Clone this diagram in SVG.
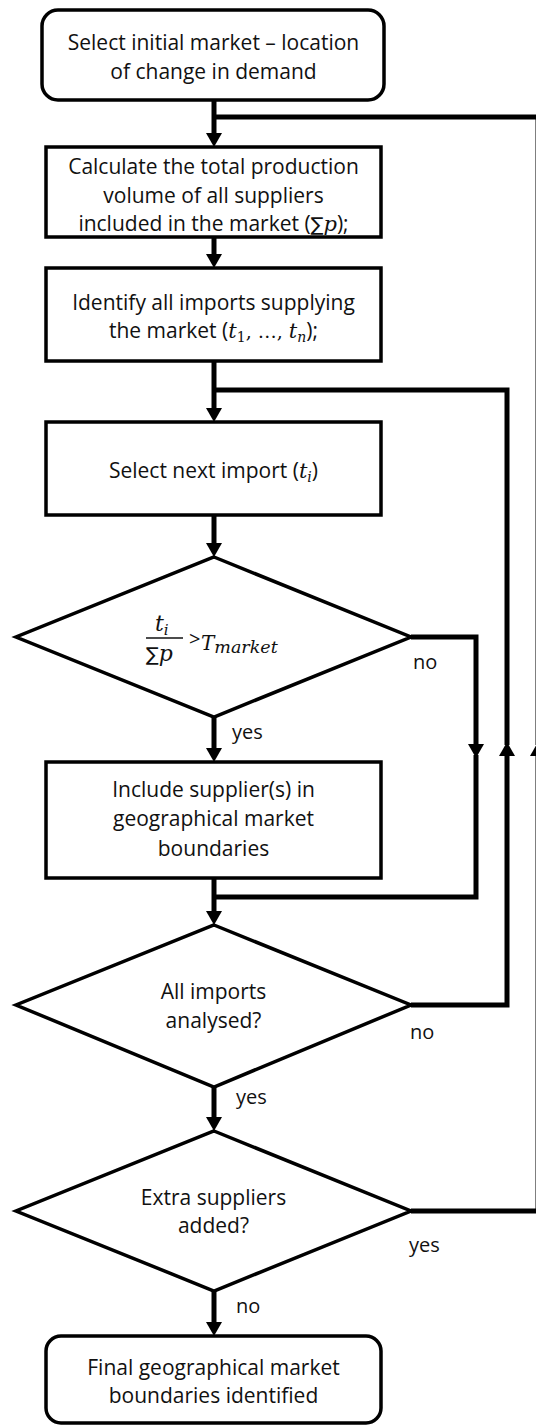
<svg xmlns="http://www.w3.org/2000/svg" width="536" height="1425" viewBox="0 0 536 1425">
<style>
.box{fill:#fff;stroke:#000;stroke-width:3.5}
.conn{fill:none;stroke:#000;stroke-width:5;stroke-linejoin:miter}
.t{font-family:"Open Sans","Liberation Sans",sans-serif;font-size:21px;fill:#111;text-anchor:middle}
.lbl{font-family:"Open Sans","Liberation Sans",sans-serif;font-size:20px;fill:#111}
.mi{font-family:"DejaVu Serif","Liberation Serif",serif;font-style:italic}
.m{font-family:"DejaVu Serif","Liberation Serif",serif;font-style:normal}
.sum{font-family:"DejaVu Sans","Liberation Sans",sans-serif;font-style:normal}
</style>
<defs>
<marker id="ah" markerUnits="userSpaceOnUse" markerWidth="14" markerHeight="16" viewBox="0 0 14 16" refX="0" refY="8" orient="auto">
<path d="M0,0 L14,8 L0,16 Z" fill="#000"/>
</marker>
</defs>
<rect width="536" height="1425" fill="#fff"/>

<g id="connectors">
<path class="conn" d="M214,100 V133" marker-end="url(#ah)"/>
<path class="conn" d="M214,237 V254" marker-end="url(#ah)"/>
<path class="conn" d="M214,361 V408" marker-end="url(#ah)"/>
<path class="conn" d="M214,515 V543" marker-end="url(#ah)"/>
<path class="conn" d="M214,717 V748" marker-end="url(#ah)"/>
<path class="conn" d="M214,878 V911" marker-end="url(#ah)"/>
<path class="conn" d="M214,1087 V1117" marker-end="url(#ah)"/>
<path class="conn" d="M214,1291 V1322" marker-end="url(#ah)"/>
<path class="conn" d="M411,637 H476 V744" marker-end="url(#ah)"/>
<path class="conn" d="M476,755 V897 H212"/>
<path class="conn" d="M411,1005 H507 V756" marker-end="url(#ah)"/>
<path class="conn" d="M507,745 V390 H212"/>
<path class="conn" d="M411,1211 H538 V756" marker-end="url(#ah)"/>
<path class="conn" d="M538,745 V117 H212"/>
</g>

<g id="start">
<rect class="box" x="42" y="10" width="342" height="90" rx="16"/>
<text class="t" x="213.5" y="50">Select initial market – location</text>
<text class="t" x="213.5" y="79">of change in demand</text>
</g>

<g id="calc-total">
<rect class="box" x="46" y="147" width="335" height="90"/>
<text class="t" x="213.5" y="174">Calculate the total production</text>
<text class="t" x="213.5" y="203">volume of all suppliers</text>
<text class="t" x="213.5" y="231">included in the market (<tspan class="sum" font-size="19">∑</tspan><tspan class="mi" font-size="21">p</tspan>);</text>
</g>

<g id="identify-imports">
<rect class="box" x="46" y="268" width="335" height="93"/>
<text class="t" x="213.5" y="310">Identify all imports supplying</text>
<text class="t" x="213.5" y="338">the market (<tspan class="mi" font-size="21">t</tspan><tspan class="m" font-size="14" dy="4">1</tspan><tspan class="m" font-size="19" dy="-4">,  …, </tspan><tspan class="mi" font-size="21">t</tspan><tspan class="mi" font-size="14" dy="4">n</tspan><tspan dy="-4">);</tspan></text>
</g>

<g id="select-next">
<rect class="box" x="46" y="422" width="335" height="93"/>
<text class="t" x="213.5" y="478">Select next import (<tspan class="mi" font-size="21">t</tspan><tspan class="mi" font-size="14" dy="4">i</tspan><tspan dy="-4">)</tspan></text>
</g>

<g id="threshold">
<polygon class="box" points="214,557 411,637 214,717 16,637"/>
<text class="mi" x="155" y="631" font-size="22" fill="#111">t<tspan font-size="15" dy="4">i</tspan></text>
<line x1="146" y1="638" x2="183" y2="638" stroke="#111" stroke-width="1.5"/>
<text x="146" y="661" font-size="22" fill="#111"><tspan class="sum" font-size="19">∑</tspan><tspan class="mi">p</tspan></text>
<text class="lbl" x="189" y="646" font-size="18">&gt;</text>
<text class="mi" x="201" y="650" font-size="20" fill="#111">T<tspan font-size="17.5" dy="3">market</tspan></text>
</g>

<g id="include-supplier">
<rect class="box" x="46" y="762" width="335" height="116"/>
<text class="t" x="213.5" y="797">Include supplier(s) in</text>
<text class="t" x="213.5" y="826">geographical market</text>
<text class="t" x="213.5" y="856">boundaries</text>
</g>

<g id="all-analysed">
<polygon class="box" points="214,925 411,1005 214,1087 16,1005"/>
<text class="t" x="213.5" y="999">All imports</text>
<text class="t" x="213.5" y="1028">analysed?</text>
</g>

<g id="extra-added">
<polygon class="box" points="214,1131 411,1211 214,1291 16,1211"/>
<text class="t" x="213.5" y="1205">Extra suppliers</text>
<text class="t" x="213.5" y="1233">added?</text>
</g>

<g id="final">
<rect class="box" x="46" y="1336" width="335" height="87" rx="15"/>
<text class="t" x="213.5" y="1375">Final geographical market</text>
<text class="t" x="213.5" y="1403">boundaries identified</text>
</g>

<g id="labels">
<text class="lbl" x="413" y="669">no</text>
<text class="lbl" x="232" y="739">yes</text>
<text class="lbl" x="410" y="1039">no</text>
<text class="lbl" x="236" y="1104">yes</text>
<text class="lbl" x="409" y="1252">yes</text>
<text class="lbl" x="236" y="1313">no</text>
</g>
</svg>
